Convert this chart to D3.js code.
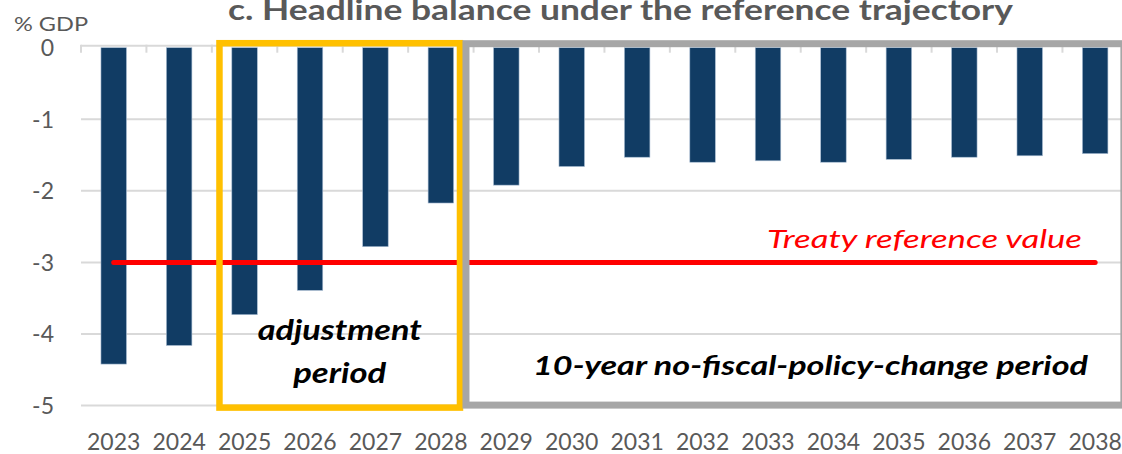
<!DOCTYPE html>
<html><head><meta charset="utf-8">
<script src="https://cdn.jsdelivr.net/npm/d3@7"></script>
<style>body{margin:0;background:#fff}svg{display:block}</style>
</head><body>
<script>
const years = ["2023","2024","2025","2026","2027","2028","2029","2030","2031","2032","2033","2034","2035","2036","2037","2038"];
const balance = [-4.42,-4.16,-3.73,-3.39,-2.78,-2.17,-1.92,-1.66,-1.53,-1.60,-1.58,-1.60,-1.56,-1.53,-1.51,-1.48];
const yTicks = [0,-1,-2,-3,-4,-5];
const referenceValue = -3;
const title = "c. Headline balance under the reference trajectory";
const yUnit = "% GDP";
const refLabel = "Treaty reference value";
const adjLabel = ["adjustment","period"];
const nfpcLabel = "10-year no-fiscal-policy-change period";

const W = 1122, H = 454;
const font = "Lato, 'Open Sans', sans-serif";
const svg = d3.select("body").append("svg").attr("width", W).attr("height", H);

const left = 81, step = 65.43;
const x = d3.scaleBand().domain(years).range([left, left + step*years.length]).paddingInner(0.61).paddingOuter(0.305);
const y = d3.scaleLinear().domain([-5, 0]).range([405.6, 47.7]);
const boundary = i => left + i*x.step();

// gridlines
svg.append("g").selectAll("line").data(yTicks.filter(d => d !== 0)).join("line")
  .attr("x1", left).attr("x2", W + 10).attr("y1", d => y(d)).attr("y2", d => y(d))
  .attr("stroke", "#d9d9d9").attr("stroke-width", 2);
// zero axis line + ticks
svg.append("line").attr("x1", left).attr("x2", W + 10).attr("y1", y(0) - 2).attr("y2", y(0) - 2)
  .attr("stroke", "#d9d9d9").attr("stroke-width", 2);
svg.append("g").selectAll("line").data(d3.range(years.length + 1)).join("line")
  .attr("x1", i => boundary(i)).attr("x2", i => boundary(i))
  .attr("y1", y(0) - 3).attr("y2", y(0) + 5)
  .attr("stroke", "#d9d9d9").attr("stroke-width", 2);

// y tick labels
svg.append("g").selectAll("text").data(yTicks).join("text")
  .attr("x", 54).attr("y", d => y(d)).attr("dy", "0.36em")
  .attr("text-anchor", "end").attr("font-family", font).attr("font-size", 23).attr("fill", "#595959")
  .text(d => d === 0 ? "0" : "-" + Math.abs(d));
svg.append("text").attr("x", 14).attr("y", 31).attr("font-family", font).attr("font-size", 20)
  .attr("fill", "#595959").attr("textLength", 74).attr("lengthAdjust", "spacingAndGlyphs").text(yUnit);

// title
svg.append("text").attr("x", 228).attr("y", 20).attr("font-family", font).attr("font-size", 29)
  .attr("font-weight", "bold").attr("fill", "#595959").attr("textLength", 785).attr("lengthAdjust", "spacingAndGlyphs").text(title);

// bars
svg.append("g").selectAll("rect").data(years).join("rect")
  .attr("x", d => x(d)).attr("width", x.bandwidth())
  .attr("y", y(0)).attr("height", (d, i) => y(balance[i]) - y(0))
  .attr("fill", "#113c64").attr("stroke", "#a9bdd3").attr("stroke-width", 0.6);

// x labels
svg.append("g").selectAll("text").data(years).join("text")
  .attr("x", d => x(d) + x.bandwidth()/2).attr("y", 450).attr("text-anchor", "middle")
  .attr("font-family", font).attr("font-size", 23).attr("fill", "#595959").text(d => d);

// reference line
svg.append("line")
  .attr("x1", x(years[0]) + x.bandwidth()/2).attr("x2", x(years[years.length-1]) + x.bandwidth()/2)
  .attr("y1", y(referenceValue)).attr("y2", y(referenceValue))
  .attr("stroke", "#ff0000").attr("stroke-width", 5).attr("stroke-linecap", "round");
svg.append("text").attr("x", 767).attr("y", 248).attr("font-family", font).attr("font-size", 26)
  .attr("font-style", "italic").attr("fill", "#ff0000").attr("textLength", 315).attr("lengthAdjust", "spacingAndGlyphs").text(refLabel);

// adjustment period box
const yl = boundary(2) + 7.6, yr = boundary(6) - 13.6;
svg.append("rect").attr("x", yl).attr("y", y(0) - 4.5).attr("width", yr - yl).attr("height", y(-5) + 2 - (y(0) - 4.5))
  .attr("fill", "none").attr("stroke", "#ffc000").attr("stroke-width", 6.5);
const gl = boundary(6) - 7.6;
svg.append("rect").attr("x", gl).attr("y", y(0) - 4).attr("width", boundary(16) - 4 - gl).attr("height", y(-5) - 0.5 - (y(0) - 4))
  .attr("fill", "none").attr("stroke", "#a6a6a6").attr("stroke-width", 7);

const adjWidths = [164, 93];
svg.append("g").selectAll("text").data(adjLabel).join("text")
  .attr("x", (d, i) => (yl + yr)/2 - adjWidths[i]/2).attr("y", (d, i) => 340 + i*43)
  .attr("font-family", font).attr("font-size", 29).attr("font-weight", "bold").attr("font-style", "italic")
  .attr("fill", "#000").attr("textLength", (d, i) => adjWidths[i]).attr("lengthAdjust", "spacingAndGlyphs").text(d => d);
svg.append("text").attr("x", 533).attr("y", 375)
  .attr("font-family", font).attr("font-size", 27).attr("font-weight", "bold").attr("font-style", "italic")
  .attr("fill", "#000").attr("textLength", 555).attr("lengthAdjust", "spacingAndGlyphs").text(nfpcLabel);
</script>
</body></html>
